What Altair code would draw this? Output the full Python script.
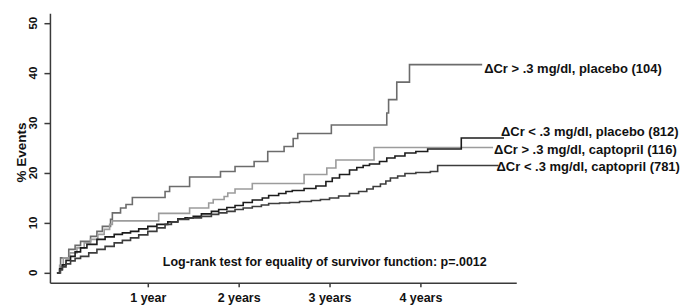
import altair as alt
import pandas as pd

# ---- data (years since start, % events) ----
series_names = ["placebo_gt", "captopril_gt", "placebo_lt", "captopril_lt"]
series_labels = [
    "ΔCr > .3 mg/dl, placebo (104)",
    "ΔCr > .3 mg/dl, captopril (116)",
    "ΔCr < .3 mg/dl, placebo (812)",
    "ΔCr < .3 mg/dl, captopril (781)",
]

years_placebo_gt = [0, 0.04, 0.13, 0.2, 0.26, 0.37, 0.44, 0.5, 0.59, 0.61, 0.70, 0.76, 0.83,
                    1.19, 1.24, 1.46, 1.80, 1.96, 2.17, 2.32, 2.50, 2.60, 2.65, 3.02, 3.63,
                    3.65, 3.74, 3.88, 4.68]
pct_placebo_gt = [0, 3.0, 4.7, 5.5, 6.3, 7.3, 8.3, 9.3, 10.7, 12.0, 13.0, 13.7, 15.1,
                  16.3, 17.3, 19.2, 20.3, 21.3, 22.3, 24.3, 25.3, 26.9, 27.9, 29.6, 32.0,
                  34.7, 38.2, 41.7, 41.7]

years_captopril_gt = [0, 0.03, 0.07, 0.14, 0.22, 0.30, 0.37, 0.45, 0.52, 0.58, 0.61, 1.12,
                      1.46, 1.67, 1.72, 1.84, 1.88, 1.96, 2.15, 2.72, 2.97, 3.07, 3.49, 4.80]
pct_captopril_gt = [0, 1.5, 3.0, 4.0, 5.0, 6.0, 6.7, 7.7, 8.7, 9.7, 10.4, 11.9,
                    13.0, 14.0, 14.7, 15.3, 16.0, 16.8, 17.9, 19.7, 21.0, 22.6, 25.1, 25.1]

years_placebo_lt = [0, 0.03, 0.06, 0.10, 0.15, 0.20, 0.26, 0.33, 0.44, 0.53, 0.63, 0.72, 0.81,
                    0.90, 1.0, 1.1, 1.22, 1.33, 1.41, 1.5, 1.59, 1.7, 1.78, 1.87, 1.96, 2.05,
                    2.15, 2.26, 2.33, 2.44, 2.52, 2.59, 2.72, 2.85, 2.96, 3.03, 3.11, 3.22,
                    3.30, 3.37, 3.44, 3.55, 3.63, 3.72, 3.83, 3.95, 4.08, 4.45, 4.92]
pct_placebo_lt = [0, 0.8, 1.6, 2.5, 3.3, 4.2, 5.0, 5.7, 6.7, 7.2, 7.7, 8.0, 8.3,
                  8.8, 9.3, 9.7, 10.2, 10.8, 11.0, 11.3, 11.8, 12.3, 12.7, 13.1, 13.5, 14.1,
                  14.6, 15.0, 15.5, 15.9, 16.3, 16.5, 16.9, 17.4, 18.3, 19.0, 19.7, 20.6,
                  21.1, 21.5, 21.8, 22.3, 23.0, 23.4, 24.0, 24.3, 24.8, 27.0, 27.0]

years_captopril_lt = [0, 0.03, 0.06, 0.10, 0.15, 0.20, 0.26, 0.35, 0.44, 0.53, 0.63, 0.72,
                      0.81, 0.90, 1.0, 1.1, 1.19, 1.26, 1.33, 1.45, 1.59, 1.7, 1.78, 1.87,
                      1.96, 2.05, 2.15, 2.25, 2.33, 2.45, 2.56, 2.67, 2.8, 2.9, 3.0, 3.1,
                      3.22, 3.32, 3.41, 3.48, 3.56, 3.62, 3.67, 3.75, 3.83, 3.95, 4.11,
                      4.19, 4.86]
pct_captopril_lt = [0, 0.6, 1.2, 1.8, 2.4, 2.9, 3.3, 4.0, 4.7, 5.3, 6.0, 6.5,
                    7.0, 7.6, 8.3, 9.0, 9.7, 10.2, 10.7, 11.0, 11.3, 11.7, 12.0, 12.3,
                    12.7, 13.0, 13.3, 13.6, 13.9, 14.0, 14.1, 14.3, 14.5, 14.7, 15.0, 15.4,
                    15.9, 16.3, 16.8, 17.3, 17.8, 18.4, 19.0, 19.4, 19.9, 20.1, 20.3,
                    21.5, 21.5]

year_ticks = [1, 2, 3, 4]
pct_ticks = [0, 10, 20, 30, 40, 50]
annotation_text = "Log-rank test for equality of survivor function: p=.0012"

# ---- build tables ----
all_years = [years_placebo_gt, years_captopril_gt, years_placebo_lt, years_captopril_lt]
all_pct = [pct_placebo_gt, pct_captopril_gt, pct_placebo_lt, pct_captopril_lt]
rows = []
for name, ys, ps in zip(series_names, all_years, all_pct):
    for t, p in zip(ys, ps):
        rows.append({"series": name, "year": t, "pct": p})
df = pd.DataFrame(rows)

colors = ["#6c6c6c", "#9c9c9c", "#1c1c1c", "#3c3c3c"]
widths = [1.6, 1.6, 1.8, 1.6]

x_scale = alt.Scale(domain=[-0.077, 5.055], nice=False, zero=False)
y_scale = alt.Scale(domain=[-2, 52], nice=False, zero=False)

lines = alt.Chart(df).mark_line(interpolate="step-after").encode(
    x=alt.X("year:Q", scale=x_scale,
            axis=alt.Axis(values=year_ticks, title=None, grid=False,
                          labelExpr="datum.value == 1 ? '1 year' : datum.value + ' years'",
                          tickSize=4, labelPadding=5, labelFont="Liberation Sans",
                          labelFontWeight="bold", labelFontSize=12.5, labelColor="#111",
                          domainColor="#3a3a3a", domainWidth=1.5, tickColor="#3a3a3a",
                          tickWidth=1.5)),
    y=alt.Y("pct:Q", scale=y_scale,
            axis=alt.Axis(values=pct_ticks, title="% Events", grid=False, labels=False,
                          tickSize=6, domainColor="#3a3a3a", domainWidth=1.5,
                          tickColor="#3a3a3a", tickWidth=1.5,
                          titleFont="Liberation Sans", titleFontWeight="bold",
                          titleFontSize=13.5, titleColor="#111", titleAngle=270,
                          titleBaseline="middle", titleX=-28, titleY=139)),
    color=alt.Color("series:N", scale=alt.Scale(domain=series_names, range=colors), legend=None),
    strokeWidth=alt.StrokeWidth("series:N", scale=alt.Scale(domain=series_names, range=widths),
                                legend=None),
    order=alt.Order("year:Q"),
)

# rotated y tick labels (reading bottom to top), drawn from the tick values
ytick_df = pd.DataFrame({"pct": pct_ticks, "label": [str(v) for v in pct_ticks]})
ytick_labels = alt.Chart(ytick_df).mark_text(
    angle=270, align="center", baseline="alphabetic", font="Liberation Sans",
    fontWeight="bold", fontSize=11.5, color="#111",
).encode(
    x=alt.value(-13),
    y=alt.Y("pct:Q", scale=y_scale),
    text="label:N",
)

# end-of-curve labels
label_dx = [2, 1, -3, -2]
label_dy = [4, 2, -6, 2]
layers = [lines, ytick_labels]
for name, lab, ys, ps, dx, dy in zip(series_names, series_labels, all_years, all_pct,
                                     label_dx, label_dy):
    ldf = pd.DataFrame({"year": [ys[-1]], "pct": [ps[-1]], "label": [lab]})
    layers.append(
        alt.Chart(ldf).mark_text(align="left", baseline="middle", dx=dx, dy=dy,
                                 font="Liberation Sans", fontWeight="bold", fontSize=13,
                                 color="#111").encode(
            x=alt.X("year:Q", scale=x_scale),
            y=alt.Y("pct:Q", scale=y_scale),
            text="label:N",
        )
    )

ann_df = pd.DataFrame({"year": [1.165], "pct": [1.3], "label": [annotation_text]})
layers.append(
    alt.Chart(ann_df).mark_text(align="left", baseline="alphabetic", font="Liberation Sans",
                                fontWeight="bold", fontSize=12.5, color="#111").encode(
        x=alt.X("year:Q", scale=x_scale),
        y=alt.Y("pct:Q", scale=y_scale),
        text="label:N",
    )
)

chart = alt.layer(*layers).properties(
    width=467, height=270,
    background="white",
    autosize=alt.AutoSizeParams(type="none"),
    padding={"left": 42, "top": 5, "right": 175, "bottom": 25},
).configure_view(strokeWidth=0, stroke="transparent")

chart.save("out.html", embed_options={"renderer": "svg", "actions": False})
